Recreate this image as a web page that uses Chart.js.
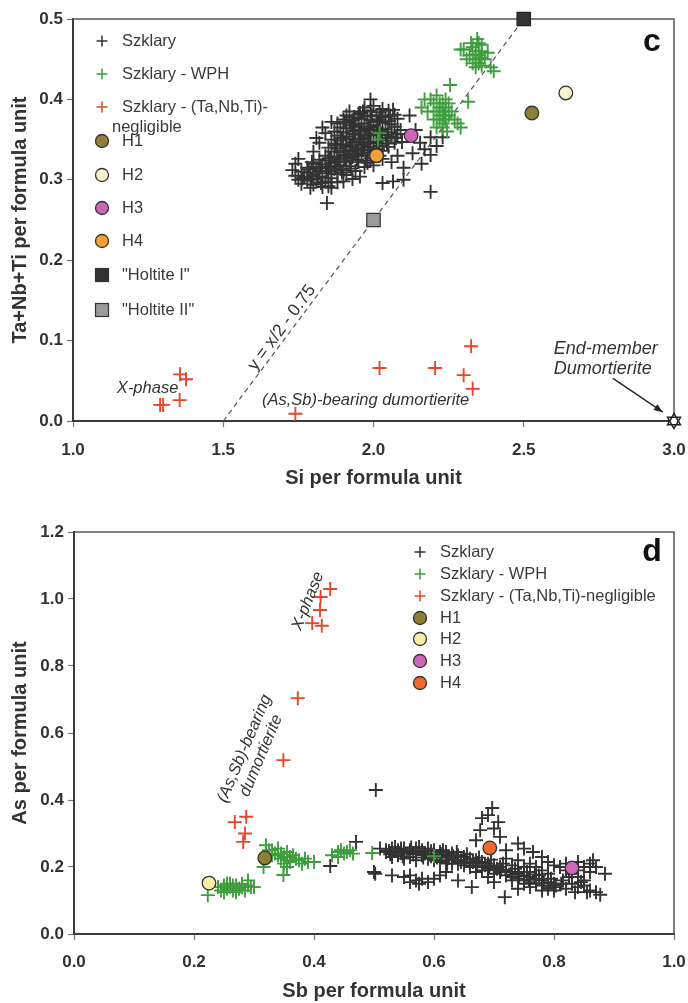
<!DOCTYPE html>
<html><head><meta charset="utf-8">
<script src="https://cdn.jsdelivr.net/npm/chart.js@4.4.1/dist/chart.umd.min.js"></script>
<style>
html,body{margin:0;padding:0;background:#fff;width:688px;height:1003px;overflow:hidden}
canvas{position:absolute;left:0}
#c1{top:0}#c2{top:490px}
</style></head>
<body>
<canvas id="c1" width="688" height="490"></canvas>
<canvas id="c2" width="688" height="513"></canvas>
<script>
// ---------------- DATA: chart c (Si vs Ta+Nb+Ti) ----------------
const xTicksC = [1.0, 1.5, 2.0, 2.5, 3.0];
const yTicksC = [0.0, 0.1, 0.2, 0.3, 0.4, 0.5];
const szklaryC = [
[1.97,0.390],[2.00,0.392],[2.03,0.388],
[1.92,0.385],[1.99,0.386],[2.02,0.384],[2.05,0.386],
[1.91,0.380],[1.95,0.381],[1.98,0.379],[2.01,0.380],[2.04,0.378],[2.07,0.381],
[1.90,0.375],[1.93,0.374],[1.96,0.376],[1.99,0.374],[2.02,0.375],[2.05,0.373],[2.08,0.376],
[1.88,0.370],[1.92,0.371],[1.95,0.369],[1.97,0.370],[2.00,0.368],[2.03,0.371],[2.06,0.369],
[1.89,0.365],[1.91,0.364],[1.94,0.366],[1.98,0.364],[2.01,0.365],[2.04,0.363],[2.07,0.366],[2.09,0.362],
[1.87,0.360],[1.90,0.359],[1.93,0.361],[1.96,0.360],[1.99,0.358],[2.02,0.361],[2.05,0.359],[2.08,0.357],
[1.88,0.355],[1.91,0.354],[1.95,0.356],[1.97,0.353],[2.00,0.355],[2.03,0.352],[2.06,0.354],
[1.86,0.350],[1.89,0.349],[1.92,0.351],[1.94,0.348],[1.98,0.350],[2.01,0.347],[2.04,0.349],[2.07,0.346],
[1.87,0.345],[1.90,0.344],[1.93,0.346],[1.96,0.343],[1.99,0.345],[2.02,0.342],[2.05,0.341],
[1.85,0.340],[1.88,0.339],[1.91,0.341],[1.95,0.338],[1.97,0.340],[2.00,0.337],[2.03,0.336],
[1.86,0.335],[1.89,0.334],[1.92,0.336],[1.94,0.332],[1.98,0.334],[2.01,0.331],
[1.84,0.330],[1.87,0.329],[1.90,0.331],[1.93,0.328],[1.96,0.330],[1.99,0.327],[2.03,0.326],
[1.82,0.325],[1.85,0.324],[1.88,0.326],[1.91,0.323],[1.95,0.322],[1.98,0.321],
[1.80,0.320],[1.83,0.319],[1.86,0.321],[1.89,0.318],[1.92,0.317],[1.97,0.316],[2.00,0.318],
[1.78,0.315],[1.81,0.314],[1.84,0.316],[1.87,0.313],[1.90,0.312],[1.94,0.311],
[1.76,0.310],[1.79,0.309],[1.82,0.311],[1.85,0.308],[1.88,0.307],[1.91,0.306],
[1.74,0.305],[1.77,0.304],[1.80,0.306],[1.83,0.303],[1.86,0.302],[1.93,0.301],
[1.75,0.300],[1.78,0.299],[1.81,0.301],[1.84,0.298],[1.88,0.297],
[1.76,0.295],[1.80,0.294],[1.85,0.292],[1.90,0.298],
[1.79,0.290],[1.83,0.291],
[1.935,0.357],[1.965,0.347],[1.985,0.366],[2.015,0.372],[1.945,0.336],[1.905,0.327],
[1.875,0.317],[1.845,0.311],[1.815,0.304],[1.795,0.322],[1.955,0.383],[2.025,0.356],
[1.905,0.372],[1.935,0.378],[1.965,0.385],[1.995,0.380],[2.025,0.379],[2.055,0.380],
[1.925,0.368],[1.955,0.362],[1.985,0.356],[2.015,0.362],[2.045,0.356],[2.075,0.352],
[1.895,0.352],[1.925,0.343],[1.955,0.351],[1.985,0.341],[2.015,0.338],[2.045,0.345],
[1.875,0.343],[1.905,0.336],[1.935,0.333],[1.965,0.337],[1.995,0.331],[2.02,0.330],
[1.855,0.327],[1.885,0.322],[1.915,0.330],[1.945,0.325],[1.975,0.324],
[1.825,0.316],[1.855,0.315],[1.895,0.309],[1.925,0.314],
[1.765,0.302],[1.795,0.301],[1.825,0.296],[1.86,0.297],[1.785,0.313],
[1.74,0.320],[1.73,0.312],[1.75,0.326],[1.82,0.346],[1.84,0.358],[1.80,0.335],
[1.83,0.365],[1.86,0.372],[1.81,0.352],
[1.99,0.400],[2.065,0.387],[2.12,0.380],[2.095,0.347],[2.155,0.346],[2.19,0.353],[2.23,0.353],
[2.13,0.333],[2.19,0.331],[2.03,0.296],[2.065,0.298],[2.10,0.300],[1.955,0.304],[1.86,0.290],
[2.19,0.285],[1.845,0.271],[2.16,0.320],[2.08,0.330],[2.10,0.315],[2.14,0.362],[2.17,0.338],
[2.21,0.342],[2.06,0.322]
];
const wphC = [
[2.34,0.460],[2.35,0.455],[2.33,0.465],[2.36,0.460],[2.34,0.450],[2.35,0.470],[2.32,0.455],
[2.37,0.450],[2.33,0.445],[2.36,0.442],[2.30,0.462],[2.31,0.450],[2.38,0.458],[2.345,0.475],
[2.35,0.445],[2.34,0.440],[2.325,0.470],[2.36,0.468],[2.40,0.435],[2.39,0.440],[2.29,0.462],
[2.355,0.452],[2.34,0.456],
[2.22,0.390],[2.23,0.385],[2.24,0.390],[2.23,0.395],[2.21,0.385],[2.25,0.380],[2.22,0.375],
[2.24,0.375],[2.23,0.370],[2.26,0.385],[2.20,0.395],[2.19,0.400],[2.17,0.400],[2.21,0.405],
[2.24,0.400],[2.25,0.395],[2.27,0.375],[2.28,0.370],[2.20,0.375],[2.18,0.385],[2.16,0.390],
[2.255,0.418],[2.315,0.397],[2.23,0.365],[2.245,0.360],[2.21,0.365],[2.29,0.365],[2.22,0.380],
[2.235,0.380],[2.22,0.395],
[2.02,0.358],[2.015,0.350]
];
const negligibleC = [
[1.29,0.020],[1.30,0.020],[1.356,0.058],[1.376,0.052],[1.355,0.026],[1.74,0.009],
[2.02,0.066],[2.205,0.066],[2.30,0.057],[2.325,0.093],[2.33,0.040]
];
const h1C = [[2.527,0.383]];
const h2C = [[2.64,0.408]];
const h3C = [[2.125,0.355]];
const h4C = [[2.01,0.330]];
const holtite1C = [[2.5,0.5]];
const holtite2C = [[2.0,0.25]];
const trendLineC = [[1.5,0.0],[2.5,0.5]];
const endMemberC = [[3.0,0.0]];

// ---------------- DATA: chart d (Sb vs As) ----------------
const xTicksD = [0.0, 0.2, 0.4, 0.6, 0.8, 1.0];
const yTicksD = [0.0, 0.2, 0.4, 0.6, 0.8, 1.0, 1.2];
const szklaryD = [
[0.52,0.250],[0.52,0.245],[0.53,0.255],[0.53,0.240],[0.53,0.230],[0.54,0.250],[0.54,0.235],[0.54,0.245],
[0.55,0.255],[0.55,0.240],[0.55,0.225],[0.56,0.250],[0.56,0.245],[0.56,0.230],[0.57,0.255],[0.57,0.240],
[0.57,0.220],[0.58,0.250],[0.58,0.235],[0.58,0.245],[0.59,0.255],[0.59,0.240],[0.59,0.225],[0.60,0.250],
[0.60,0.235],[0.60,0.220],[0.61,0.245],[0.61,0.230],[0.61,0.215],[0.62,0.245],[0.62,0.235],[0.62,0.220],
[0.63,0.240],[0.63,0.225],[0.63,0.210],[0.64,0.235],[0.64,0.220],[0.64,0.210],[0.65,0.230],[0.65,0.215],
[0.65,0.205],[0.66,0.225],[0.66,0.210],[0.66,0.200],[0.67,0.220],[0.67,0.205],[0.68,0.215],[0.68,0.200],
[0.68,0.190],[0.69,0.210],[0.69,0.195],[0.70,0.205],[0.70,0.190],[0.70,0.180],[0.71,0.200],[0.71,0.185],
[0.72,0.190],[0.72,0.175],[0.73,0.185],[0.73,0.170],[0.73,0.160],[0.74,0.180],[0.74,0.165],[0.75,0.175],
[0.75,0.160],[0.75,0.150],[0.76,0.170],[0.76,0.155],[0.77,0.165],[0.77,0.150],[0.78,0.160],[0.78,0.145],
[0.79,0.155],[0.79,0.140],[0.80,0.150],[0.80,0.140],
[0.525,0.248],[0.545,0.242],[0.565,0.238],[0.585,0.240],[0.605,0.228],[0.625,0.228],[0.645,0.215],
[0.665,0.215],[0.685,0.205],[0.705,0.195],[0.535,0.260],[0.575,0.260],[0.615,0.250],[0.655,0.238],
[0.695,0.222],[0.735,0.195],[0.755,0.185],[0.775,0.175],[0.795,0.165],[0.815,0.160],[0.825,0.170],
[0.845,0.155],[0.835,0.125],[0.855,0.125],
[0.527,0.238],[0.548,0.232],[0.562,0.258],[0.582,0.228],[0.595,0.247],[0.612,0.238],[0.632,0.232],
[0.638,0.245],[0.652,0.222],[0.672,0.212],[0.675,0.228],[0.692,0.200],[0.712,0.192],[0.715,0.210],
[0.728,0.178],[0.742,0.172],[0.758,0.162],[0.768,0.178],[0.783,0.152],[0.803,0.145],[0.812,0.150],
[0.545,0.255],[0.595,0.232],[0.622,0.210],
[0.81,0.200],[0.82,0.210],[0.84,0.215],[0.85,0.200],[0.86,0.210],[0.87,0.200],[0.885,0.180],[0.83,0.180],
[0.84,0.170],[0.85,0.160],[0.83,0.150],[0.84,0.140],[0.86,0.130],[0.87,0.125],[0.877,0.117],[0.82,0.135],
[0.85,0.145],[0.86,0.185],[0.84,0.190],[0.82,0.190],[0.80,0.205],[0.79,0.180],[0.78,0.190],[0.77,0.200],
[0.76,0.210],[0.75,0.200],[0.74,0.220],[0.72,0.225],[0.73,0.205],[0.865,0.220],[0.79,0.215],
[0.50,0.185],[0.502,0.180],[0.53,0.175],[0.55,0.170],[0.56,0.175],[0.57,0.160],[0.58,0.165],[0.59,0.155],
[0.60,0.165],[0.61,0.175],[0.62,0.185],[0.64,0.160],[0.663,0.140],[0.67,0.185],[0.69,0.170],[0.70,0.155],
[0.718,0.110],[0.74,0.135],[0.76,0.140],[0.78,0.130],[0.79,0.135],[0.80,0.130],[0.56,0.155],[0.575,0.150],
[0.697,0.376],[0.68,0.346],[0.707,0.334],[0.677,0.310],[0.67,0.280],[0.69,0.355],[0.70,0.315],[0.71,0.290],
[0.74,0.270],[0.765,0.245],[0.75,0.255],[0.72,0.250],[0.78,0.230],
[0.503,0.430],[0.47,0.275],[0.427,0.203],[0.51,0.255]
];
const wphD = [
[0.223,0.116],[0.24,0.140],[0.245,0.130],[0.25,0.145],[0.255,0.135],[0.26,0.140],[0.265,0.130],[0.27,0.145],
[0.275,0.135],[0.28,0.140],[0.285,0.130],[0.29,0.145],[0.295,0.140],[0.30,0.140],[0.26,0.150],[0.27,0.125],
[0.25,0.125],[0.28,0.150],[0.29,0.160],[0.265,0.145],[0.255,0.150],
[0.32,0.265],[0.33,0.250],[0.335,0.240],[0.34,0.235],[0.345,0.225],[0.35,0.230],[0.355,0.220],[0.36,0.230],
[0.345,0.240],[0.355,0.245],[0.36,0.215],[0.37,0.225],[0.375,0.220],[0.385,0.225],[0.39,0.215],[0.40,0.215],
[0.35,0.210],[0.34,0.255],[0.33,0.235],[0.365,0.235],[0.349,0.176],[0.316,0.200],[0.355,0.200],[0.38,0.210],
[0.325,0.250],
[0.43,0.235],[0.44,0.245],[0.445,0.250],[0.45,0.240],[0.455,0.245],[0.46,0.250],[0.465,0.240],[0.44,0.230],
[0.497,0.242],[0.60,0.232]
];
const negligibleD = [
[0.427,1.030],[0.411,1.006],[0.410,0.967],[0.397,0.928],[0.413,0.920],[0.373,0.704],
[0.349,0.519],[0.268,0.334],[0.287,0.350],[0.285,0.300],[0.282,0.275]
];
const h1D = [[0.318,0.227]];
const h2D = [[0.225,0.152]];
const h3D = [[0.830,0.197]];
const h4D = [[0.693,0.257]];

// ---------------- series names ----------------
const namesC = ['Szklary','Szklary - WPH','Szklary - (Ta,Nb,Ti)-negligible','H1','H2','H3','H4','"Holtite I"','"Holtite II"'];
const namesD = ['Szklary','Szklary - WPH','Szklary - (Ta,Nb,Ti)-negligible','H1','H2','H3','H4'];

// ---------------- styles ----------------
const COL = {black:'#333333', green:'#3e9e3e', red:'#e8452b', h1:'#8f7f36', h2:'#faf3d0', h2d:'#f8eea6',
  h3:'#cc66b8', h4c:'#f4a236', h4d:'#ee6a2a', hol1:'#333333', hol2:'#9b9b9b'};
Chart.defaults.font.family = "'Liberation Sans', Arial, Helvetica, sans-serif";
Chart.defaults.color = '#333';
const pts = a => a.map(p => ({x:p[0], y:p[1]}));

function hexagram(){
  const c = document.createElement('canvas'); c.width = 20; c.height = 20;
  const g = c.getContext('2d'); const r = 7.5, cx = 10, cy = 10;
  const tri = a0 => { g.beginPath(); for (let k=0;k<3;k++){ const a=a0+k*2*Math.PI/3; const px=cx+r*Math.cos(a), py=cy+r*Math.sin(a); k?g.lineTo(px,py):g.moveTo(px,py);} g.closePath(); };
  g.fillStyle='#fff'; tri(-Math.PI/2); g.fill(); tri(Math.PI/2); g.fill();
  g.strokeStyle='#222'; g.lineWidth=1.5; tri(-Math.PI/2); g.stroke(); tri(Math.PI/2); g.stroke();
  return c;
}

function crossSet(label, data, color, order){
  return {label, data:pts(data), pointStyle:'cross', pointRadius:7, borderColor:color, backgroundColor:color,
    pointBorderWidth:1.9, borderWidth:1.9, order, clip:false};
}
function circleSet(label, data, color, order){
  return {label, data:pts(data), pointStyle:'circle', pointRadius:6.8, backgroundColor:color, borderColor:'#333',
    borderWidth:1.3, order, clip:false};
}

function scales(o){
  const tickFont = {size:17, weight:'bold'};
  const titleFont = {size:20, weight:'bold'};
  return {
    x:{type:'linear', min:o.xr[0], max:o.xr[1],
      afterBuildTicks(s){ s.ticks = o.xt.map(v=>({value:v})); },
      ticks:{callback:v=>Number(v).toFixed(1), font:tickFont, color:'#333', padding:o.xpad, maxRotation:0, autoSkip:false},
      grid:{drawOnChartArea:false, drawTicks:true, tickLength:6, tickColor:'#777', tickWidth:1.2},
      border:{display:true, color:'#3a3a3a', width:2},
      title:{display:true, text:o.xtitle, font:titleFont, color:'#333', padding:{top:0,bottom:0}},
      afterFit(s){ s.height = 69; s.paddingLeft = 0; s.paddingRight = 0; }},
    y:{type:'linear', min:o.yr[0], max:o.yr[1],
      afterBuildTicks(s){ s.ticks = o.yt.map(v=>({value:v})); },
      ticks:{callback:v=>Number(v).toFixed(1), font:tickFont, color:'#333', padding:4, autoSkip:false},
      grid:{drawOnChartArea:false, drawTicks:true, tickLength:6, tickColor:'#777', tickWidth:1.2},
      border:{display:true, color:'#3a3a3a', width:2},
      title:{display:true, text:o.ytitle, font:titleFont, color:'#333', padding:{top:8,bottom:0}},
      afterFit(s){ s.width = o.yw; s.paddingTop = 0; s.paddingBottom = 0; }}
  };
}

const framePlugin = {id:'frame', beforeDatasetsDraw(chart){
  const {ctx, chartArea:a} = chart; ctx.save(); ctx.strokeStyle='#555'; ctx.lineWidth=1.5;
  ctx.beginPath(); ctx.moveTo(a.left, a.top); ctx.lineTo(a.right, a.top); ctx.lineTo(a.right, a.bottom); ctx.stroke(); ctx.restore();
}};

function drawSymbol(ctx, s, x, y){
  ctx.save();
  if (s.type==='cross'){ ctx.strokeStyle=s.color; ctx.lineWidth=1.5; ctx.beginPath(); ctx.moveTo(x-5.5,y); ctx.lineTo(x+5.5,y); ctx.moveTo(x,y-5.5); ctx.lineTo(x,y+5.5); ctx.stroke(); }
  else if (s.type==='circle'){ ctx.fillStyle=s.color; ctx.strokeStyle='#333'; ctx.lineWidth=1.3; ctx.beginPath(); ctx.arc(x,y,6.5,0,Math.PI*2); ctx.fill(); ctx.stroke(); }
  else if (s.type==='rect'){ ctx.fillStyle=s.color; ctx.strokeStyle='#333'; ctx.lineWidth=1.2; ctx.fillRect(x-6.5,y-6.5,13,13); ctx.strokeRect(x-6.5,y-6.5,13,13); }
  ctx.restore();
}

function overlayPlugin(cfg){
  return {id:'overlay', afterDatasetsDraw(chart){
    const ctx = chart.ctx, sx = chart.scales.x, sy = chart.scales.y;
    ctx.save();
    ctx.font = cfg.legendFont; ctx.fillStyle = '#3a3a3a'; ctx.textBaseline = 'middle'; ctx.textAlign = 'left';
    cfg.legend.forEach(it => {
      if (it.sym) drawSymbol(ctx, it.sym, cfg.symX, it.y);
      ctx.fillText(it.text, it.tx !== undefined ? it.tx : cfg.textX, it.y);
    });
    ctx.font = "bold 32px 'Liberation Sans', Arial, sans-serif"; ctx.fillStyle = '#111'; ctx.textAlign='center';
    ctx.fillText(cfg.letter.text, cfg.letter.x, cfg.letter.y);
    cfg.notes.forEach(n => {
      const px = sx.getPixelForValue(n.x), py = sy.getPixelForValue(n.y);
      ctx.save(); ctx.translate(px, py); ctx.rotate((n.rot||0)*Math.PI/180);
      ctx.font = n.font; ctx.fillStyle = '#333'; ctx.textAlign = n.align || 'center'; ctx.textBaseline = 'middle';
      const lines = Array.isArray(n.text) ? n.text : [n.text];
      const lh = n.lh || 18; const off = -(lines.length-1)*lh/2;
      lines.forEach((t,i) => ctx.fillText(t, 0, off + i*lh));
      ctx.restore();
    });
    (cfg.arrows||[]).forEach(a => {
      const x1 = sx.getPixelForValue(a.from[0]), y1 = sy.getPixelForValue(a.from[1]);
      const x2 = sx.getPixelForValue(a.to[0]), y2 = sy.getPixelForValue(a.to[1]);
      ctx.strokeStyle = '#222'; ctx.fillStyle = '#222'; ctx.lineWidth = 1.3;
      ctx.beginPath(); ctx.moveTo(x1,y1); ctx.lineTo(x2,y2); ctx.stroke();
      const ang = Math.atan2(y2-y1, x2-x1), L = 9, W = 3.5;
      ctx.beginPath(); ctx.moveTo(x2,y2);
      ctx.lineTo(x2 - L*Math.cos(ang) + W*Math.sin(ang), y2 - L*Math.sin(ang) - W*Math.cos(ang));
      ctx.lineTo(x2 - L*Math.cos(ang) - W*Math.sin(ang), y2 - L*Math.sin(ang) + W*Math.cos(ang));
      ctx.closePath(); ctx.fill();
    });
    ctx.restore();
  }};
}

// ---------------- Chart c ----------------
new Chart(document.getElementById('c1'), {
  type:'scatter',
  data:{datasets:[
    {type:'line', label:'y = x/2 - 0.75', data:pts(trendLineC), borderColor:'#555', borderWidth:1.2, borderDash:[5,4], pointRadius:0, fill:false, order:20},
    crossSet(namesC[0], szklaryC, COL.black, 12),
    crossSet(namesC[1], wphC, COL.green, 11),
    crossSet(namesC[2], negligibleC, COL.red, 10),
    circleSet(namesC[3], h1C, COL.h1, 4),
    circleSet(namesC[4], h2C, COL.h2, 4),
    circleSet(namesC[5], h3C, COL.h3, 4),
    circleSet(namesC[6], h4C, COL.h4c, 4),
    {label:namesC[7], data:pts(holtite1C), pointStyle:'rect', pointRadius:9.5, backgroundColor:COL.hol1, borderColor:'#222', borderWidth:1.2, order:2, clip:false},
    {label:namesC[8], data:pts(holtite2C), pointStyle:'rect', pointRadius:9.5, backgroundColor:COL.hol2, borderColor:'#333', borderWidth:1.2, order:2, clip:false},
    {label:'End-member Dumortierite', data:pts(endMemberC), pointStyle:hexagram(), pointRadius:8, order:1, clip:false}
  ]},
  options:{responsive:false, animation:false, events:[],
    layout:{padding:{top:19, right:14, bottom:0, left:0}},
    plugins:{legend:{display:false}, tooltip:{enabled:false}},
    scales:scales({xr:[1,3], yr:[0,0.5], xt:xTicksC, yt:yTicksC, xpad:13, yw:73,
      xtitle:'Si per formula unit', ytitle:'Ta+Nb+Ti per formula unit'})
  },
  plugins:[framePlugin, overlayPlugin({
    legendFont:"16.5px 'Liberation Sans', Arial, sans-serif", symX:102, textX:122,
    legend:[
      {sym:{type:'cross',color:COL.black}, text:namesC[0], y:41},
      {sym:{type:'cross',color:COL.green}, text:namesC[1], y:74},
      {sym:{type:'cross',color:COL.red}, text:'Szklary - (Ta,Nb,Ti)-', y:107},
      {text:'negligible', tx:112, y:127},
      {sym:{type:'circle',color:COL.h1}, text:namesC[3], y:141},
      {sym:{type:'circle',color:COL.h2}, text:namesC[4], y:175},
      {sym:{type:'circle',color:COL.h3}, text:namesC[5], y:208},
      {sym:{type:'circle',color:COL.h4c}, text:namesC[6], y:241},
      {sym:{type:'rect',color:COL.hol1}, text:namesC[7], y:275},
      {sym:{type:'rect',color:COL.hol2}, text:namesC[8], y:310}
    ],
    letter:{text:'c', x:652, y:42},
    notes:[
      {text:'X-phase', x:1.146, y:0.040, font:"italic 16.5px 'Liberation Sans', Arial, sans-serif", align:'left'},
      {text:'(As,Sb)-bearing dumortierite', x:1.629, y:0.026, font:"italic 16.5px 'Liberation Sans', Arial, sans-serif", align:'left'},
      {text:'End-member', x:2.60, y:0.0896, font:"italic 18px 'Liberation Sans', Arial, sans-serif", align:'left'},
      {text:'Dumortierite', x:2.60, y:0.0647, font:"italic 18px 'Liberation Sans', Arial, sans-serif", align:'left'},
      {text:'y = x/2 - 0.75', x:1.695, y:0.116, rot:-53.4, font:"17.5px 'Liberation Sans', Arial, sans-serif"}
    ],
    arrows:[{from:[2.797,0.053], to:[2.963,0.011]}]
  })]
});

// ---------------- Chart d ----------------
new Chart(document.getElementById('c2'), {
  type:'scatter',
  data:{datasets:[
    crossSet(namesD[0], szklaryD, COL.black, 12),
    crossSet(namesD[1], wphD, COL.green, 11),
    crossSet(namesD[2], negligibleD, COL.red, 10),
    circleSet(namesD[3], h1D, COL.h1, 4),
    circleSet(namesD[4], h2D, COL.h2d, 4),
    circleSet(namesD[5], h3D, COL.h3, 4),
    circleSet(namesD[6], h4D, COL.h4d, 4)
  ]},
  options:{responsive:false, animation:false, events:[],
    layout:{padding:{top:42, right:14, bottom:0, left:0}},
    plugins:{legend:{display:false}, tooltip:{enabled:false}},
    scales:scales({xr:[0,1], yr:[0,1.2], xt:xTicksD, yt:yTicksD, xpad:12, yw:74,
      xtitle:'Sb per formula unit', ytitle:'As per formula unit'})
  },
  plugins:[framePlugin, overlayPlugin({
    legendFont:"16.5px 'Liberation Sans', Arial, sans-serif", symX:420, textX:440,
    legend:[
      {sym:{type:'cross',color:COL.black}, text:namesD[0], y:62},
      {sym:{type:'cross',color:COL.green}, text:namesD[1], y:84},
      {sym:{type:'cross',color:COL.red}, text:namesD[2], y:106},
      {sym:{type:'circle',color:COL.h1}, text:namesD[3], y:128},
      {sym:{type:'circle',color:COL.h2d}, text:namesD[4], y:149},
      {sym:{type:'circle',color:COL.h3}, text:namesD[5], y:171},
      {sym:{type:'circle',color:COL.h4d}, text:namesD[6], y:193}
    ],
    letter:{text:'d', x:652, y:62},
    notes:[
      {text:'X-phase', x:0.39, y:0.994, rot:-68, font:"italic 16.5px 'Liberation Sans', Arial, sans-serif"},
      {text:['(As,Sb)-bearing','dumortierite'], x:0.298, y:0.543, rot:-67, lh:18, font:"italic 16.5px 'Liberation Sans', Arial, sans-serif"}
    ]
  })]
});
</script>
</body></html>
